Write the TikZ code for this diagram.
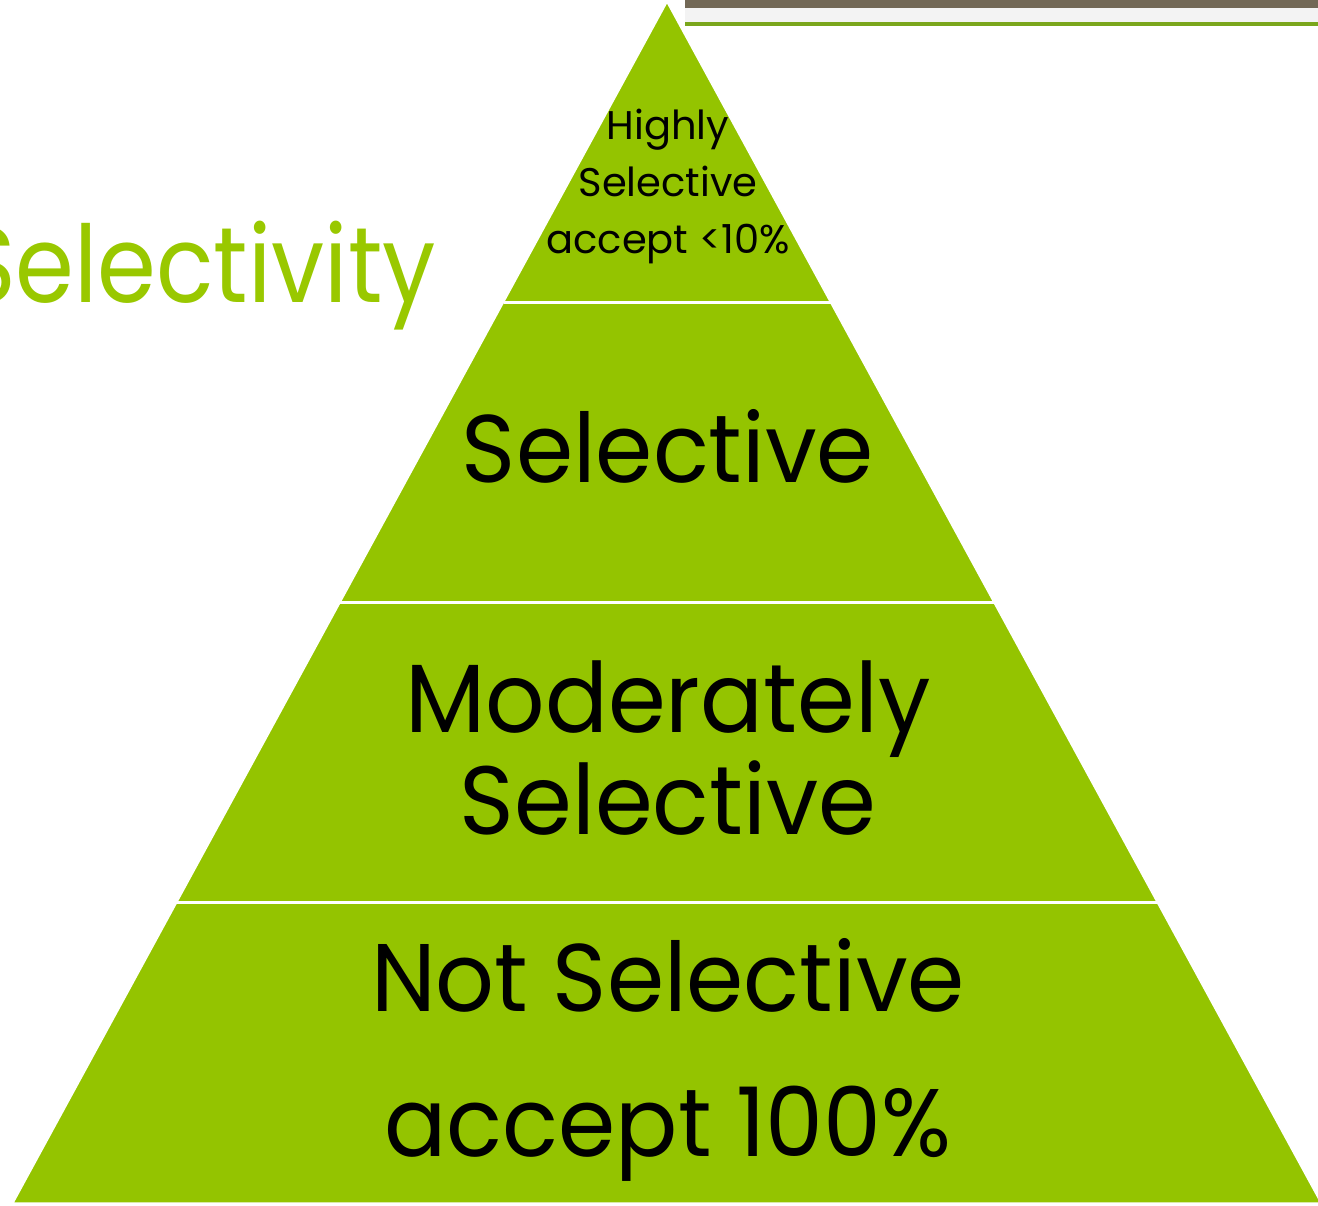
\documentclass[tikz,border=0pt]{standalone}
\usepackage{fontspec}
\setmainfont{Poppins}
\usetikzlibrary{calc}
\definecolor{pyrgreen}{HTML}{94C400}
\definecolor{titlegreen}{HTML}{99C800}
\definecolor{barbrown}{HTML}{726856}
\definecolor{bargray}{HTML}{F3F3F3}
\definecolor{linegreen}{HTML}{7AA61C}

\begin{document}
\begin{tikzpicture}[x=1pt,y=-1pt,
  pyramid/.style={fill=pyrgreen,draw=white,line width=1.5pt},
  divider/.style={draw=white,line width=3pt},
  tiertext/.style={align=center,text=black,inner sep=0pt},
  heading/.style={text=titlegreen,inner sep=0pt,anchor=base west}]
\useasboundingbox (0,0) rectangle (1318,1206);
% header bars
\fill[barbrown] (685,0) rectangle (1318,8);
\fill[bargray] (685,8) rectangle (1318,22);
\fill[linegreen] (685,22) rectangle (1318,26);
% pyramid
\coordinate (apex) at (667,2);
\coordinate (left) at (13,1203);
\coordinate (right) at (1321,1203);
\path[pyramid] (apex) -- (left) -- (right) -- cycle;
\foreach \f in {0.25,0.5,0.75}
  \draw[divider] ($(apex)!\f!(left)$) -- ($(apex)!\f!(right)$);
% labels
\node[heading,xscale=0.885,font=\fontsize{107}{107}\selectfont] (head) at (-40,303) {Selectivity};
\node[tiertext,font=\fontsize{40}{57}\selectfont] (tier1) at (668,186) {Highly\\Selective\\accept <10\%};
\node[tiertext,xscale=0.96,font=\fontsize{96}{100}\selectfont,anchor=base] (tier2) at (668,482) {Selective};
\node[tiertext,xscale=0.96,font=\fontsize{97}{102}\selectfont] (tier3) at (668,748) {Moderately\\Selective};
\node[tiertext,xscale=0.96,font=\fontsize{96}{145}\selectfont] (tier4) at (668,1060) {Not Selective\\accept 100\%};
\end{tikzpicture}
\end{document}
